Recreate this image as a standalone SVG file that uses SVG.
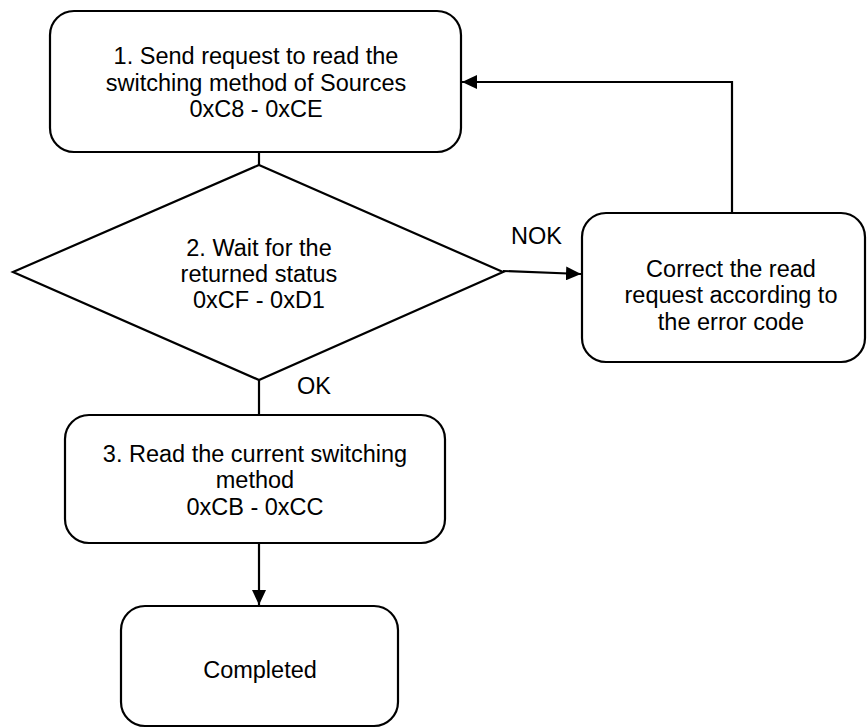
<svg xmlns="http://www.w3.org/2000/svg" width="867" height="728" viewBox="0 0 867 728">
<style>
.n{fill:#fff;stroke:#000;stroke-width:2.2}
.c{fill:none;stroke:#000;stroke-width:2.2}
text{font-family:"Liberation Sans",Arial,sans-serif;font-size:23.5px;fill:#000;text-anchor:middle}
.l{text-anchor:start}
</style>
<defs>
<marker id="ah" viewBox="0 0 15 14" refX="15" refY="7" markerWidth="15" markerHeight="14" markerUnits="userSpaceOnUse" orient="auto">
<path d="M0,0 L15,7 L0,14 Z" fill="#000"/>
</marker>
</defs>
<rect width="867" height="728" fill="#fff"/>
<g id="connectors">
<line class="c" x1="259" y1="152" x2="259" y2="165"/>
<line class="c" x1="503" y1="271" x2="581" y2="274" marker-end="url(#ah)"/>
<polyline class="c" points="732,213 732,82 462,82" marker-end="url(#ah)"/>
<line class="c" x1="259" y1="380" x2="259" y2="415"/>
<line class="c" x1="259" y1="543" x2="259" y2="605" marker-end="url(#ah)"/>
<text class="l" x="511" y="244">NOK</text>
<text class="l" x="297" y="394">OK</text>
</g>
<g id="step1">
<rect class="n" x="50" y="11" width="411" height="141" rx="24"/>
<text x="256" y="64">1. Send request to read the</text>
<text x="256" y="91">switching method of Sources</text>
<text x="256" y="117">0xC8 - 0xCE</text>
</g>
<g id="step2">
<polygon class="n" points="259,165 503,272 259,380 13,272"/>
<text x="259" y="256">2. Wait for the</text>
<text x="259" y="282">returned status</text>
<text x="259" y="308">0xCF - 0xD1</text>
</g>
<g id="correct">
<rect class="n" x="582" y="213" width="283" height="149" rx="24"/>
<text x="731" y="277">Correct the read</text>
<text x="731" y="303">request according to</text>
<text x="731" y="330">the error code</text>
</g>
<g id="step3">
<rect class="n" x="65" y="415" width="380" height="128" rx="24"/>
<text x="255" y="462">3. Read the current switching</text>
<text x="255" y="488">method</text>
<text x="255" y="515">0xCB - 0xCC</text>
</g>
<g id="completed">
<rect class="n" x="121" y="606" width="277" height="120" rx="24"/>
<text x="260" y="678">Completed</text>
</g>
</svg>
